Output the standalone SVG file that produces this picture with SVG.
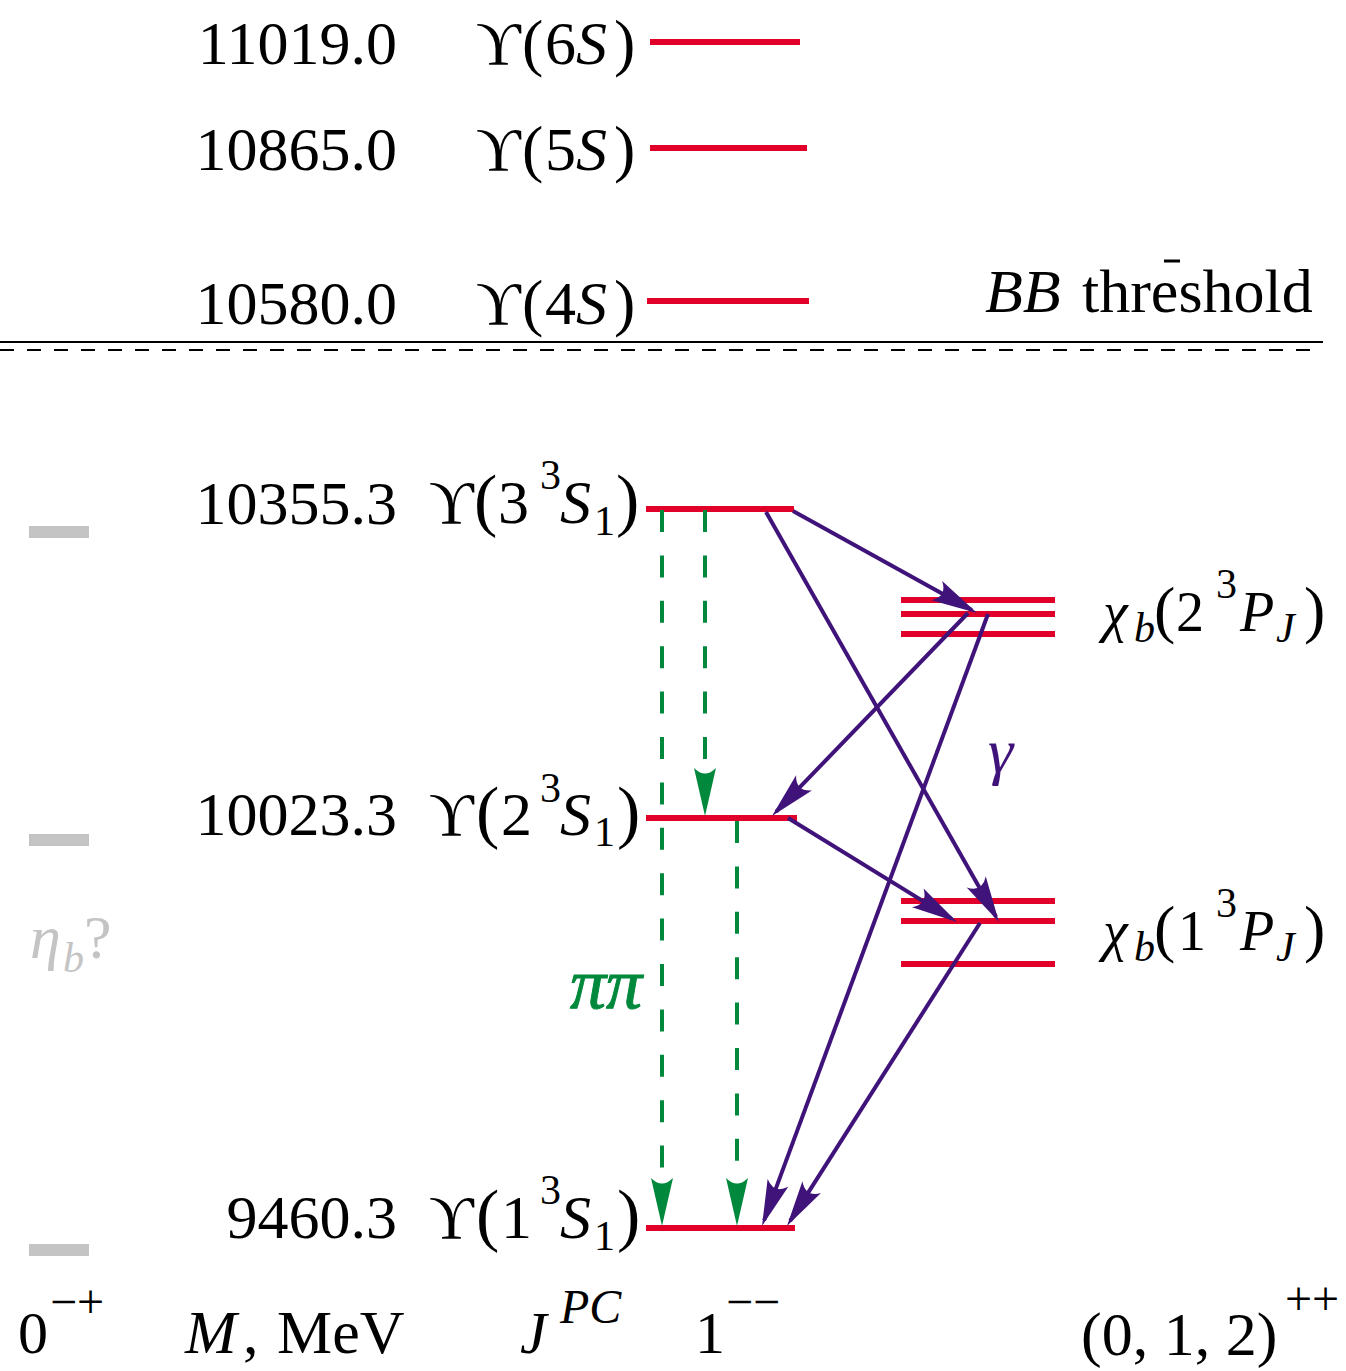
<svg xmlns="http://www.w3.org/2000/svg" width="1346" height="1371" viewBox="0 0 1346 1371">
<style>
text { font-family: "Liberation Serif", "DejaVu Serif", serif; font-size: 62px; fill: #000; }
.i { font-style: italic; }
.s { font-size: 42px; }
.sb { font-size: 48px; }
.p { font-size: 70px; }
.pc { font-size: 64px; }
.chi { font-size: 56px; }
.lvl { stroke: #e1002a; stroke-width: 6; fill: none; }
.gray { fill: #c4c4c4; }
.pa { stroke: #40137a; stroke-width: 4; fill: none; marker-end: url(#ap); }
.ga { stroke: #00893c; stroke-width: 4; fill: none; stroke-dasharray: 22 23.4; marker-end: url(#ag); }
</style>
<defs>
<marker id="ap" markerUnits="userSpaceOnUse" viewBox="-2 -14 52 28" markerWidth="52" markerHeight="28" refX="40" refY="0" orient="auto" overflow="visible">
<path d="M46,0 L0,-11 Q12,0 0,11 Z" fill="#40137a"/>
</marker>
<marker id="ag" markerUnits="userSpaceOnUse" viewBox="-2 -14 54 28" markerWidth="54" markerHeight="28" refX="42" refY="0" orient="auto" overflow="visible">
<path d="M48,0 L0,-11 Q11,0 0,11 Z" fill="#00893c"/>
</marker>
</defs>

<g id="threshold">
<line x1="0" y1="342" x2="1323" y2="342" stroke="#000" stroke-width="2"/>
<line x1="0" y1="350" x2="1323" y2="350" stroke="#000" stroke-width="2" stroke-dasharray="14 13"/>
<text y="312"><tspan x="985" class="i">BB</tspan><tspan x="1082">threshold</tspan></text>
<line x1="1164" y1="261" x2="1180" y2="261" stroke="#000" stroke-width="3"/>
</g>

<g id="upsilon6S">
<line class="lvl" x1="650" y1="42" x2="800" y2="42"/>
<text x="397" y="64" text-anchor="end">11019.0</text>
<text y="64"><tspan x="476">ϒ</tspan><tspan x="522" class="pc">(</tspan><tspan x="545">6</tspan><tspan x="576" class="i">S</tspan><tspan x="614" class="pc">)</tspan></text>
</g>
<g id="upsilon5S">
<line class="lvl" x1="650" y1="148" x2="807" y2="148"/>
<text x="397" y="170" text-anchor="end">10865.0</text>
<text y="170"><tspan x="476">ϒ</tspan><tspan x="522" class="pc">(</tspan><tspan x="545">5</tspan><tspan x="576" class="i">S</tspan><tspan x="614" class="pc">)</tspan></text>
</g>
<g id="upsilon4S">
<line class="lvl" x1="647" y1="301" x2="809" y2="301"/>
<text x="397" y="324" text-anchor="end">10580.0</text>
<text y="324"><tspan x="476">ϒ</tspan><tspan x="522" class="pc">(</tspan><tspan x="545">4</tspan><tspan x="576" class="i">S</tspan><tspan x="614" class="pc">)</tspan></text>
</g>

<g id="upsilon3S">
<line class="lvl" x1="646" y1="509" x2="794" y2="509"/>
<text x="397" y="524" text-anchor="end">10355.3</text>
<text y="523"><tspan x="429">ϒ</tspan><tspan x="474" class="p">(</tspan><tspan x="498">3</tspan><tspan x="540" y="489" class="s">3</tspan><tspan x="560" y="523" class="i">S</tspan><tspan x="594" y="535" class="s">1</tspan><tspan x="616" y="523" class="p">)</tspan></text>
</g>
<g id="upsilon2S">
<line class="lvl" x1="646" y1="818" x2="797" y2="818"/>
<text x="397" y="835" text-anchor="end">10023.3</text>
<text y="835"><tspan x="429">ϒ</tspan><tspan x="476" class="p">(</tspan><tspan x="501">2</tspan><tspan x="540" y="802" class="s">3</tspan><tspan x="560" y="835" class="i">S</tspan><tspan x="594" y="846" class="s">1</tspan><tspan x="617" y="835" class="p">)</tspan></text>
</g>
<g id="upsilon1S">
<line class="lvl" x1="646" y1="1228" x2="795" y2="1228"/>
<text x="397" y="1238" text-anchor="end">9460.3</text>
<text y="1238"><tspan x="429">ϒ</tspan><tspan x="476" class="p">(</tspan><tspan x="501">1</tspan><tspan x="540" y="1204" class="s">3</tspan><tspan x="560" y="1238" class="i">S</tspan><tspan x="594" y="1250" class="s">1</tspan><tspan x="617" y="1238" class="p">)</tspan></text>
</g>

<g id="chib2P">
<line class="lvl" x1="901" y1="600" x2="1055" y2="600"/>
<line class="lvl" x1="901" y1="614" x2="1055" y2="614"/>
<line class="lvl" x1="901" y1="634" x2="1055" y2="634"/>
<text y="631" class="chi"><tspan x="1103" class="i">χ</tspan><tspan x="1134" y="642" class="s i">b</tspan><tspan x="1154" y="631" class="pc">(</tspan><tspan x="1176">2</tspan><tspan x="1216" y="598" class="s">3</tspan><tspan x="1240" y="631" class="i">P</tspan><tspan x="1276" y="642" class="s i">J</tspan><tspan x="1304" y="631" class="pc">)</tspan></text>
</g>
<g id="chib1P">
<line class="lvl" x1="901" y1="901" x2="1055" y2="901"/>
<line class="lvl" x1="901" y1="921" x2="1055" y2="921"/>
<line class="lvl" x1="901" y1="964" x2="1055" y2="964"/>
<text y="950" class="chi"><tspan x="1103" class="i">χ</tspan><tspan x="1134" y="961" class="s i">b</tspan><tspan x="1154" y="950" class="pc">(</tspan><tspan x="1178">1</tspan><tspan x="1216" y="917" class="s">3</tspan><tspan x="1240" y="950" class="i">P</tspan><tspan x="1276" y="961" class="s i">J</tspan><tspan x="1304" y="950" class="pc">)</tspan></text>
</g>

<g id="etab">
<rect class="gray" x="29" y="526" width="60" height="12"/>
<rect class="gray" x="29" y="834" width="60" height="12"/>
<rect class="gray" x="29" y="1244" width="60" height="12"/>
<text y="958" style="fill:#c4c4c4"><tspan x="30" class="i">η</tspan><tspan x="63" y="972" class="s i">b</tspan><tspan x="84" y="958">?</tspan></text>
</g>

<g id="connectors">
<line class="ga" x1="662" y1="510" x2="662" y2="1220"/>
<line class="ga" x1="705" y1="510" x2="705" y2="810"/>
<line class="ga" x1="737" y1="821" x2="737" y2="1220"/>
<line class="pa" x1="793" y1="511" x2="971.8" y2="610.1"/>
<line class="pa" x1="766" y1="512" x2="996" y2="916.8"/>
<line class="pa" x1="968" y1="613" x2="776.2" y2="811.7"/>
<line class="pa" x1="988" y1="614" x2="764.1" y2="1220.4"/>
<line class="pa" x1="788" y1="818" x2="951.9" y2="918.9"/>
<line class="pa" x1="980" y1="923" x2="790.2" y2="1220.9"/>
<text x="570" y="1008" class="i" style="fill:#00893c;stroke:#00893c;stroke-width:1;font-size:72px">ππ</text>
<text x="988" y="772" class="i" style="fill:#40137a;font-size:64px">γ</text>
</g>

<g id="axis-labels">
<text y="1353" style="font-size:60px"><tspan x="18">0</tspan><tspan x="50" y="1318" class="sb">−+</tspan></text>
<text y="1353"><tspan x="185" class="i">M</tspan><tspan x="243">,</tspan><tspan x="277">MeV</tspan></text>
<text y="1353" style="font-size:60px"><tspan x="520" class="i">J</tspan><tspan x="560" y="1323" class="sb i">PC</tspan></text>
<text y="1353" style="font-size:60px"><tspan x="695">1</tspan><tspan x="726" y="1318" class="sb">−−</tspan></text>
<text y="1355" style="font-size:62px"><tspan x="1081">(0, 1, 2)</tspan><tspan x="1285" y="1315" class="sb">++</tspan></text>
</g>
</svg>
